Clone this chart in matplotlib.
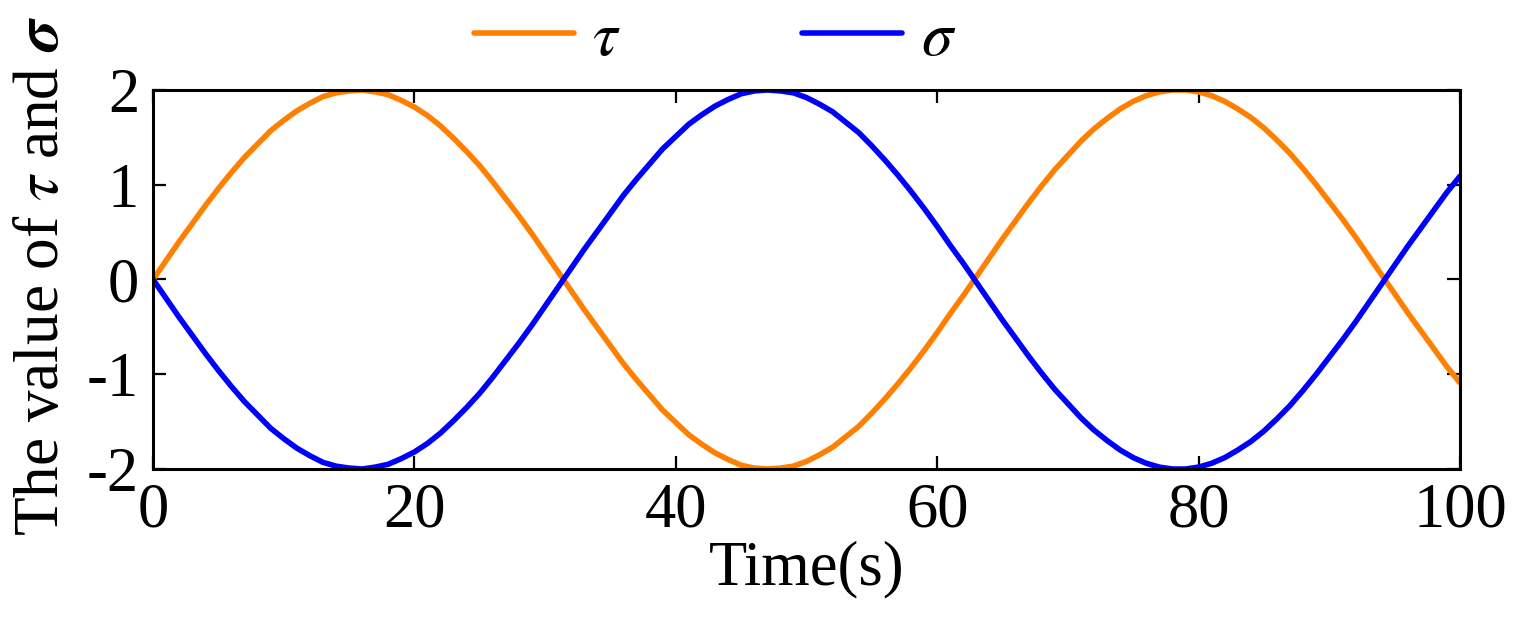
import numpy as np
from matplotlib import pyplot as plt

plt.rcParams['font.family'] = ['Liberation Serif', 'DejaVu Serif']
plt.rcParams['mathtext.fontset'] = 'stix'
plt.rcParams['axes.unicode_minus'] = False

# values, every 1 s
time = list(range(0, 101))
tau = [0.00, 0.20, 0.40, 0.59, 0.78, 0.96, 1.13, 1.29, 1.43, 1.57,
       1.68, 1.78, 1.86, 1.93, 1.97, 1.99, 2.00, 1.98, 1.95, 1.89,
       1.82, 1.73, 1.62, 1.49, 1.35, 1.20, 1.03, 0.85, 0.67, 0.48,
       0.28, 0.08, -0.12, -0.32, -0.51, -0.70, -0.89, -1.06, -1.22, -1.38,
       -1.51, -1.64, -1.74, -1.83, -1.90, -1.96, -1.99, -2.00, -1.99, -1.97,
       -1.92, -1.85, -1.77, -1.66, -1.55, -1.41, -1.26, -1.10, -0.93, -0.75,
       -0.56, -0.36, -0.17, 0.03, 0.23, 0.43, 0.62, 0.81, 0.99, 1.16,
       1.31, 1.46, 1.59, 1.70, 1.80, 1.88, 1.94, 1.98, 2.00, 2.00,
       1.98, 1.94, 1.88, 1.80, 1.71, 1.60, 1.47, 1.33, 1.17, 1.00,
       0.82, 0.64, 0.45, 0.25, 0.05, -0.15, -0.35, -0.54, -0.73, -0.92,
       -1.09]
sigma = [0.00, -0.20, -0.40, -0.59, -0.78, -0.96, -1.13, -1.29, -1.43, -1.57,
         -1.68, -1.78, -1.86, -1.93, -1.97, -1.99, -2.00, -1.98, -1.95, -1.89,
         -1.82, -1.73, -1.62, -1.49, -1.35, -1.20, -1.03, -0.85, -0.67, -0.48,
         -0.28, -0.08, 0.12, 0.32, 0.51, 0.70, 0.89, 1.06, 1.22, 1.38,
         1.51, 1.64, 1.74, 1.83, 1.90, 1.96, 1.99, 2.00, 1.99, 1.97,
         1.92, 1.85, 1.77, 1.66, 1.55, 1.41, 1.26, 1.10, 0.93, 0.75,
         0.56, 0.36, 0.17, -0.03, -0.23, -0.43, -0.62, -0.81, -0.99, -1.16,
         -1.31, -1.46, -1.59, -1.70, -1.80, -1.88, -1.94, -1.98, -2.00, -2.00,
         -1.98, -1.94, -1.88, -1.80, -1.71, -1.60, -1.47, -1.33, -1.17, -1.00,
         -0.82, -0.64, -0.45, -0.25, -0.05, 0.15, 0.35, 0.54, 0.73, 0.92,
         1.09]
xticks = [0, 20, 40, 60, 80, 100]
yticks = [-2, -1, 0, 1, 2]

fig = plt.figure(figsize=(15.2, 6.22), dpi=100)
ax = fig.add_axes([0.1007, 0.246, 0.8598, 0.6093])

ax.plot(time, tau, color='#ff8000', lw=4, label=r'$\tau$', solid_capstyle='round')
ax.plot(time, sigma, color='#0000ff', lw=4, label=r'$\sigma$', solid_capstyle='round')

ax.set_xlim(0, 100)
ax.set_ylim(-2, 2)
ax.set_xticks(xticks)
ax.set_yticks(yticks)
ax.tick_params(direction='in', length=9.5, width=1.6, labelsize=45, pad=10,
               top=True, right=True)
for s in ax.spines.values():
    s.set_linewidth(2.2)

ax.set_xlabel('Time(s)', fontsize=45, labelpad=0)
ax.set_ylabel(r'The value of $\tau$ and $\boldsymbol{\sigma}$', fontsize=45.5)
ax.yaxis.set_label_coords(-0.062, 0.51)

leg = ax.legend(loc='lower center', bbox_to_anchor=(0.43, 0.99), ncol=2, frameon=False,
                fontsize=45, handlelength=1.6, handletextpad=0.3, columnspacing=2.9,
                borderaxespad=0)

plt.savefig('out.png', dpi=100)
